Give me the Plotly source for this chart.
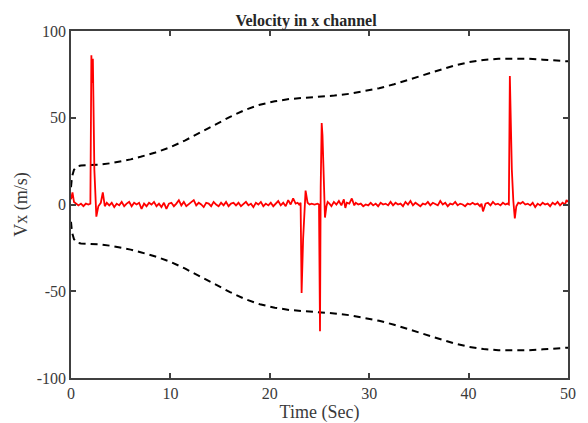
import plotly.graph_objects as go

# Red velocity signal (time in s, Vx in m/s)
t_sig = [0, 0.15, 0.3, 0.5, 0.75, 1.0, 1.25, 1.5, 1.75, 1.95, 2.05, 2.12, 2.2, 2.35, 2.55, 2.75, 3.0, 3.2, 3.4, 3.6, 3.85,
         4.1, 4.35, 4.6, 4.85, 5.1, 5.35, 5.6, 5.85, 6.1, 6.35, 6.6, 6.85, 7.1, 7.35, 7.6, 7.85, 8.1, 8.35, 8.6, 8.85,
         9.1, 9.35, 9.6, 9.85, 10.1, 10.35, 10.6, 10.85, 11.1, 11.35, 11.6, 11.85, 12.1, 12.35, 12.6, 12.85, 13.1, 13.35,
         13.6, 13.85, 14.1, 14.35, 14.6, 14.85, 15.1, 15.35, 15.6, 15.85, 16.1, 16.35, 16.6, 16.85, 17.1, 17.35, 17.6,
         17.85, 18.1, 18.35, 18.6, 18.85, 19.1, 19.35, 19.6, 19.85, 20.1, 20.35, 20.6, 20.85, 21.1, 21.35, 21.6, 21.85,
         22.1, 22.35, 22.6, 22.8, 22.95, 23.1, 23.2, 23.35, 23.6, 23.8, 24.0, 24.2, 24.5, 24.8, 24.95, 25.05, 25.12,
         25.22, 25.3, 25.42, 25.55, 25.7, 25.82, 26.0, 26.2, 26.45, 26.7, 26.95, 27.2, 27.45, 27.6, 27.75, 28.0, 28.25,
         28.5, 28.65, 28.9, 29.15, 29.4, 29.65, 29.9, 30.15, 30.4, 30.65, 30.9, 31.15, 31.4, 31.65, 31.9, 32.15, 32.4,
         32.65, 32.9, 33.15, 33.4, 33.65, 33.9, 34.15, 34.4, 34.65, 34.9, 35.15, 35.4, 35.65, 35.9, 36.15, 36.4, 36.65,
         36.9, 37.15, 37.4, 37.65, 37.9, 38.15, 38.4, 38.65, 38.9, 39.15, 39.4, 39.65, 39.9, 40.15, 40.4, 40.65, 40.9,
         41.15, 41.3, 41.45, 41.7, 41.95, 42.2, 42.45, 42.7, 42.95, 43.2, 43.45, 43.7, 43.9, 44.05, 44.15, 44.25, 44.35,
         44.5, 44.65, 44.8, 45.0, 45.2, 45.45, 45.7, 45.95, 46.2, 46.45, 46.7, 46.95, 47.2, 47.45, 47.7, 47.95, 48.2,
         48.45, 48.7, 48.95, 49.2, 49.45, 49.7, 49.85, 50.0]
vx_sig = [3, 7, 1.5, 0.5, -0.5, 0.5, -1, 0.5, 0, 0.5, 86, 70, 84, 20, -7, -1, 1, 7, -1, 1, -0.5,
          1, -1.5, 0.5, -0.5, 1.5, -1, 0.5, 1.5, -1, 1, 0, 1, -2.5, 0.5, -1, 1, 0, 1.5, -1, 0.5,
          -1.5, 1, -2.5, 0.5, 1, -1, 0.5, 2.5, -0.5, 1.5, -1, 0, 1, 2.5, -0.5, 1, 0, -1.5,
          1, 0.5, -1, 1.5, 0, -1, 1, -0.5, 1.5, -1, 0.5, 1, -0.5, 1, -1, 0.5, 1.5,
          -0.5, 0.5, -1.5, 1, 0, 1.5, -1, 0.5, -0.5, 1, -1, 0.5, 2, -0.5, 1, -1, 2.5,
          0, 3.5, 0.5, 1, 0, 1, -51, -20, 8, 1, 0, 0.5, 0, 0.5, 0, -73, 10,
          47, 40, 10, -7.5, -1, 1.5, 0.5, -1, 1.5, 0, 2, -0.5, 3, -2, 1, 0.5, 3.5,
          -0.5, 1, 0, 0.5, -1, 0, -0.5, 1, -0.5, 0.5, -1, 1, 0, 0.5, -0.5, 1.5, -0.5,
          1, 0, 0.5, -1, 1.5, 0, 2, -0.5, 1, 0, -1, 0.5, 0, 1.5, -0.5, 1, 0, -0.5,
          2, 0, 1, -1, 0.5, 0, 1.5, -0.5, 0.5, 0, -1, 0.5, 0, 1, 0, 0.5, -1,
          0.5, -4, 0.5, 1, -0.5, 1.5, 0, 0.5, -0.5, 1, 0, 0.5, 0, 74, 48, 20, 2,
          -8, -1, 1, 0.5, 1.5, 0, 0.5, -0.5, 1, -1.5, 0.5, -0.5, 1, 0, 0.5, -1,
          1, 0, 1.5, -0.5, 1, 0, 2.5, 1.5]

# Dashed confidence bounds
t_bound = [0, 0.1, 0.3, 0.6, 1.0, 2.0, 3.0, 4.0, 5.0, 6.0, 7.0, 8.5, 10, 11.5, 13, 14.5, 16, 17.5, 19, 20.5, 22,
           23.5, 25, 26.5, 28, 29.5, 31, 32.5, 34, 35.5, 37, 38.5, 40, 41.5, 43, 44.5, 46, 47.5, 49, 50]
upper = [10, 16, 20, 22, 22.5, 22.7, 23, 23.8, 24.8, 26, 27.5, 30, 33, 37, 41.5, 46, 50.5, 54.5, 57.5, 59.5, 60.8,
         61.5, 62, 62.8, 63.8, 65.2, 67, 69.3, 72, 74.8, 77.5, 80, 82, 83.3, 84, 84.2, 84, 83.5, 82.8, 82.5]
lower = [-10, -16, -20, -22, -22.5, -22.7, -23, -23.8, -24.8, -26, -27.5, -30, -33, -37, -41.5, -46, -50.5, -54.5,
         -57.5, -59.5, -60.8, -61.5, -62, -62.8, -63.8, -65.2, -67, -69.3, -72, -74.8, -77.5, -80, -82, -83.3, -84,
         -84.2, -84, -83.5, -82.8, -82.5]

x_ticks = [0, 10, 20, 30, 40, 50]
x_tick_labels = ["0", "10", "20", "30", "40", "50"]
y_ticks = [-100, -50, 0, 50, 100]
y_tick_labels = ["-100", "-50", "0", "50", "100"]

fig = go.Figure()
fig.add_trace(go.Scatter(x=t_bound, y=upper, mode="lines",
                         line=dict(color="black", width=2, dash="7px,5px"), showlegend=False))
fig.add_trace(go.Scatter(x=t_bound, y=lower, mode="lines",
                         line=dict(color="black", width=2, dash="7px,5px"), showlegend=False))
fig.add_trace(go.Scatter(x=t_sig, y=vx_sig, mode="lines",
                         line=dict(color="#ff0000", width=1.8), showlegend=False))

font_family = "Liberation Serif, Times New Roman, serif"
axis_common = dict(showline=True, linecolor="#404040", linewidth=1.5, mirror="ticks", ticks="inside",
                   ticklen=5, tickcolor="#404040", tickwidth=1.5, showgrid=False, zeroline=False,
                   automargin=False,
                   tickfont=dict(family=font_family, size=16, color="#3a3a3a"))
fig.update_layout(
    width=588, height=423,
    margin=dict(l=71, r=20, t=31, b=45),
    plot_bgcolor="white", paper_bgcolor="white",
    title=dict(text="<b>Velocity in x channel</b>", x=306 / 588, xanchor="center", xref="container",
               y=1, yref="paper", yanchor="bottom", pad=dict(b=5),
               font=dict(family=font_family, size=16, color="#262626")),
    xaxis=dict(range=[0, 50], tickvals=x_ticks, ticktext=x_tick_labels,
               title=dict(text="Time (Sec)", standoff=5,
                          font=dict(family=font_family, size=18, color="#3a3a3a")),
               **axis_common),
    yaxis=dict(range=[-100, 100], tickvals=y_ticks, ticktext=y_tick_labels,
               title=dict(text="Vx (m/s)", standoff=4,
                          font=dict(family=font_family, size=18, color="#3a3a3a")),
               **axis_common),
)
fig.write_html("out.html")
